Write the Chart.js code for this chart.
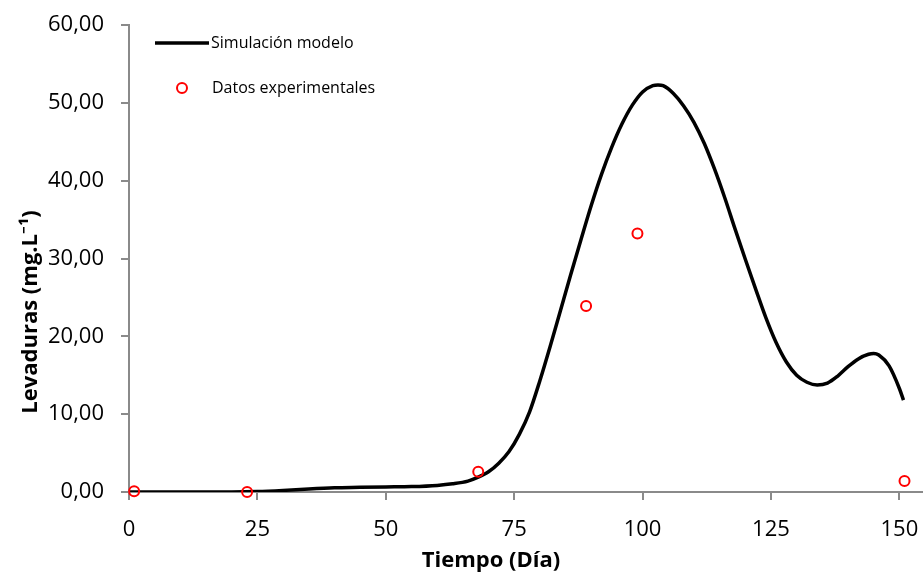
<!DOCTYPE html>
<html>
<head>
<meta charset="utf-8">
<script src="https://cdn.jsdelivr.net/npm/chart.js@4"></script>
<style>
  html, body { margin: 0; padding: 0; background: #fff; }
  #wrap { width: 923px; height: 572px; }
</style>
</head>
<body>
<div id="wrap"><canvas id="levaduras"></canvas></div>
<script>
// curva del modelo
const modeloDias = [0, 10, 20, 25, 30, 35, 40, 45, 50, 55, 60, 63, 66, 68, 70, 72, 74, 76, 78, 80, 82, 84, 86, 88, 90, 92, 94, 96, 98, 100, 102, 103, 104, 106, 108, 110, 112, 114, 116, 118, 120, 122, 124, 126, 128, 130, 132, 134, 136, 138, 140, 142, 144, 145, 146, 148, 150, 150.8]
const modeloValores = [0, 0, 0, 0.05, 0.2, 0.4, 0.55, 0.6, 0.65, 0.7, 0.85, 1.05, 1.4, 1.9, 2.6, 3.7, 5.2, 7.4, 10.3, 14.3, 18.7, 23.3, 27.9, 32.4, 36.8, 40.8, 44.3, 47.3, 49.7, 51.4, 52.2, 52.3, 52.2, 51.2, 49.6, 47.5, 44.8, 41.5, 37.8, 33.8, 29.9, 26.1, 22.4, 19.2, 16.7, 15.0, 14.1, 13.75, 14.0, 14.9, 16.1, 17.1, 17.7, 17.8, 17.6, 16.2, 13.3, 11.8]

// datos experimentales
const expDias = [1, 23, 68, 89, 99, 151]
const expValores = [0.1, 0, 2.6, 23.9, 33.2, 1.4]

const xTicks = [0, 25, 50, 75, 100, 125, 150]
const yTicks = [0, 10, 20, 30, 40, 50, 60]

const tituloX = 'Tiempo (Día)'
const tituloY = 'Levaduras (mg.L⁻¹)'

const fuente = "'Open Sans', 'Noto Sans', sans-serif"
const gris = '#8a8a8a'

const modelo = modeloDias.map((d, i) => ({ x: d, y: modeloValores[i] }))
const experimentales = expDias.map((d, i) => ({ x: d, y: expValores[i] }))

// leyenda dentro del area del grafico y titulos de los ejes
const leyendaInterna = {
    id: 'leyendaInterna',
    afterDraw(chart) {
        const { ctx, chartArea } = chart
        const ds = chart.data.datasets
        const x0 = chartArea.left + 26
        ctx.save()
        ctx.font = '16px ' + fuente
        ctx.fillStyle = '#000'
        ctx.textBaseline = 'middle'
        // linea
        const y1 = chartArea.top + 18
        ctx.strokeStyle = ds[0].borderColor
        ctx.lineWidth = ds[0].borderWidth
        ctx.beginPath()
        ctx.moveTo(x0, y1)
        ctx.lineTo(x0 + 54, y1)
        ctx.stroke()
        ctx.fillText(ds[0].label, x0 + 56, y1)
        // circulo
        const y2 = chartArea.top + 63
        ctx.strokeStyle = ds[1].borderColor
        ctx.lineWidth = ds[1].borderWidth
        ctx.beginPath()
        ctx.arc(x0 + 27, y2, ds[1].pointRadius, 0, Math.PI * 2)
        ctx.stroke()
        ctx.fillText(ds[1].label, x0 + 57, y2)

        // titulos de ejes
        ctx.font = 'bold 22px ' + fuente
        ctx.textBaseline = 'alphabetic'
        ctx.textAlign = 'center'
        ctx.fillText(tituloX, chartArea.left + 362, chart.height - 5)
        ctx.translate(37, chartArea.top + 287)
        ctx.rotate(-Math.PI / 2)
        ctx.fillText(tituloY, 0, 0)
        ctx.restore()
    }
}

const ctx = document.getElementById('levaduras').getContext('2d')

new Chart(ctx, {
    type: 'scatter',
    data: {
        datasets: [{
            label: 'Simulación modelo',
            data: modelo,
            showLine: true,
            borderColor: '#000',
            borderWidth: 3.5,
            pointRadius: 0,
            cubicInterpolationMode: 'monotone',
            order: 2
        }, {
            label: 'Datos experimentales',
            data: experimentales,
            showLine: false,
            borderColor: '#ff0000',
            backgroundColor: 'rgba(255,255,255,0)',
            borderWidth: 2,
            pointRadius: 5,
            clip: false,
            order: 1
        }]
    },
    options: {
        responsive: true,
        maintainAspectRatio: false,
        animation: false,
        layout: {
            autoPadding: false,
            padding: { top: 25, right: 0, left: 0, bottom: 0 }
        },
        scales: {
            x: {
                type: 'linear',
                min: 0,
                max: 154.6,
                afterBuildTicks: s => { s.ticks = xTicks.map(v => ({ value: v })) },
                afterFit: s => { s.height = 80; s.paddingRight = 0; s.paddingLeft = 0 },
                border: { color: gris, width: 2 },
                grid: { drawOnChartArea: false, color: gris, lineWidth: 2, tickLength: 8 },
                ticks: {
                    color: '#000',
                    padding: 17,
                    font: { family: fuente, size: 22 }
                }
            },
            y: {
                min: 0,
                max: 60,
                afterBuildTicks: s => { s.ticks = yTicks.map(v => ({ value: v })) },
                afterFit: s => { s.width = 129; s.paddingTop = 0; s.paddingBottom = 0 },
                border: { color: gris, width: 2 },
                grid: { drawOnChartArea: false, color: gris, lineWidth: 2, tickLength: 8 },
                ticks: {
                    color: '#000',
                    padding: 17,
                    font: { family: fuente, size: 22 },
                    callback: v => v.toFixed(2).replace('.', ',')
                }
            }
        },
        plugins: {
            legend: { display: false },
            tooltip: { enabled: false }
        }
    },
    plugins: [leyendaInterna]
});
</script>
</body>
</html>
